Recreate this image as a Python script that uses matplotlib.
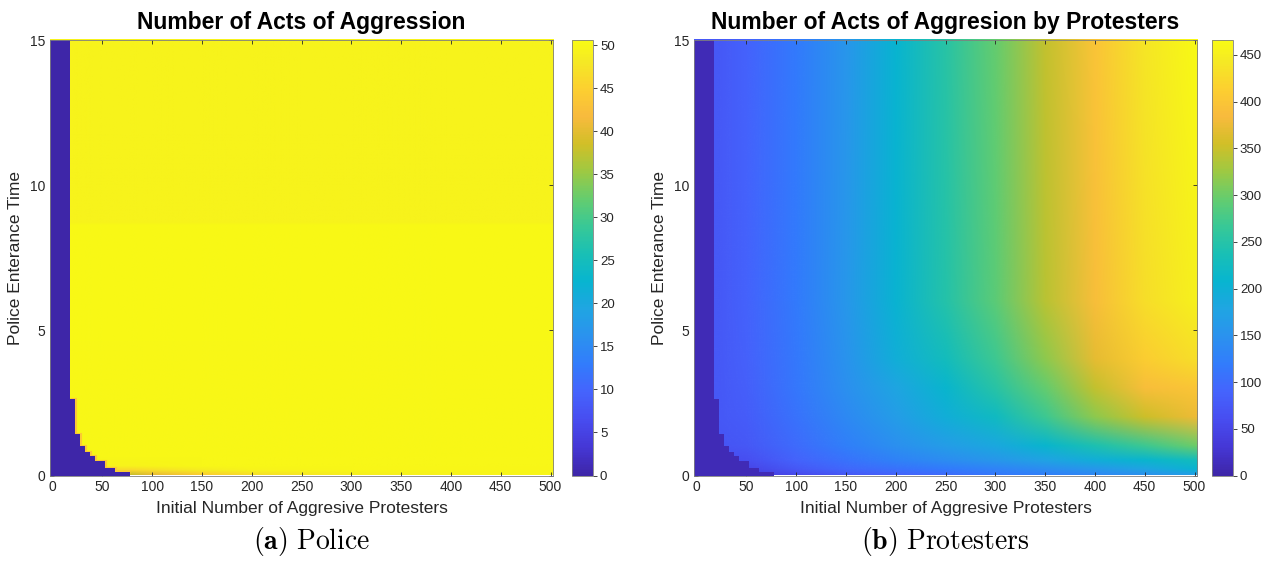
import numpy as np
import matplotlib
matplotlib.use("Agg")
import matplotlib.pyplot as plt
from matplotlib.colors import LinearSegmentedColormap, Normalize
from matplotlib.image import NonUniformImage

plt.rcParams['font.family'] = ['Liberation Sans', 'DejaVu Sans']
plt.rcParams['mathtext.fontset'] = 'cm'

# MATLAB parula (sampled)
parula_pts = [
    (0, (0.2422, 0.1504, 0.6603)), (4, (0.2706, 0.2147, 0.8364)),
    (8, (0.2813, 0.3006, 0.9414)), (12, (0.2699, 0.3892, 0.9906)),
    (16, (0.1963, 0.4847, 0.9892)), (20, (0.1687, 0.5703, 0.9359)),
    (24, (0.1248, 0.6459, 0.8883)), (28, (0.0297, 0.7082, 0.8163)),
    (32, (0.0964, 0.7500, 0.7120)), (36, (0.2161, 0.7843, 0.5923)),
    (40, (0.3909, 0.8029, 0.4354)), (44, (0.6174, 0.7876, 0.2612)),
    (48, (0.8203, 0.7498, 0.1535)), (52, (0.9728, 0.7298, 0.2394)),
    (56, (0.9892, 0.8136, 0.1885)), (60, (0.9597, 0.9135, 0.1423)),
    (63, (0.9769, 0.9839, 0.0805)),
]
parula = LinearSegmentedColormap.from_list(
    'parula', [(i / 63, c) for i, c in parula_pts], N=256)

# --- data -----------------------------------------------------------------
# staircase region (no acts): column centres and entrance time below which value ~0
stair_x = [0, 5, 10, 15, 20, 25, 30, 35, 40, 45, 50, 55, 60, 65, 70, 75]
stair_h = [15, 15, 15, 15, 2.64, 1.43, 1.01, 0.81, 0.66, 0.49, 0.49,
           0.26, 0.26, 0.11, 0.11, 0.11]

# (a) police
pol_x = [20, 77.5, 100, 150, 200, 300, 500]
pol_y = [0, 0.15, 0.3, 0.6, 8.6, 8.7, 15]
pol_z = [
    [38.0, 38.0, 40.5, 44.5, 47.0, 49.0, 50.0],
    [46.0, 46.0, 47.0, 48.6, 49.5, 50.0, 50.1],
    [49.5, 49.5, 49.8, 50.1, 50.2, 50.2, 50.2],
    [50.2, 50.2, 50.2, 50.2, 50.2, 50.2, 50.2],
    [50.3, 50.3, 50.3, 50.3, 50.3, 50.3, 50.3],
    [49.6, 49.6, 49.6, 49.6, 49.6, 49.6, 49.6],
    [49.6, 49.6, 49.6, 49.6, 49.6, 49.6, 49.6],
]
pol_dark = 0
pol_edge = 44
pol_max = 50.6

# (b) protesters
pro_x = [20, 50, 100, 150, 200, 250, 300, 350, 400, 450, 500]
pro_y = [0, 0.2, 0.5, 1, 2, 3, 4, 6, 15]
pro_z = [
    [40, 40, 55, 75, 90, 100, 115, 125, 135, 150, 170],
    [50, 50, 76, 95, 109, 119, 130, 145, 160, 180, 205],
    [60, 62, 90, 109, 128, 143, 157, 176, 195, 211, 228],
    [70, 76, 100, 124, 147, 166, 185, 211, 242, 270, 300],
    [75, 81, 109, 138, 166, 195, 223, 270, 318, 352, 375],
    [75, 84, 114, 147, 180, 210, 252, 295, 347, 390, 400],
    [75, 86, 116, 152, 195, 228, 270, 318, 370, 410, 430],
    [75, 88, 118, 157, 205, 248, 290, 342, 390, 430, 452],
    [75, 88, 118, 155, 207, 252, 296, 346, 398, 440, 463],
]
pro_dark = 10
pro_max = 466

xticks = np.arange(0, 501, 50)
yticks = [0, 5, 10, 15]

# --- figure ---------------------------------------------------------------
fig = plt.figure(figsize=(12.63, 5.65), dpi=100)

W, H = 1263, 565
panels = [
    dict(ax=(50, 40, 503, 435.5), cax=(572, 40, 21, 435.5),
         x=pol_x, y=pol_y, z=pol_z, dark=pol_dark, edge=pol_edge, vmax=pol_max,
         cticks=np.arange(0, 51, 5),
         title='Number of Acts of Aggression',
         caption=r'$\mathbf{(a)}\ \mathrm{Police}$', cap_x=312),
    dict(ax=(694, 40, 503, 435.5), cax=(1212, 40, 21, 435.5),
         x=pro_x, y=pro_y, z=pro_z, dark=pro_dark, edge=None, vmax=pro_max,
         cticks=np.arange(0, 451, 50),
         title='Number of Acts of Aggresion by Protesters',
         caption=r'$\mathbf{(b)}\ \mathrm{Protesters}$', cap_x=945),
]

edges = np.append(np.array(stair_x) - 2.5, stair_x[-1] + 2.5)
grey = '#262626'
for p in panels:
    l, t, w, h = p['ax']
    ax = fig.add_axes([l / W, 1 - (t + h) / H, w / W, h / H])
    norm = Normalize(0, p['vmax'])
    im = NonUniformImage(ax, interpolation='bilinear', cmap=parula, norm=norm,
                         extent=(-2.5, 502.5, 0, 15))
    im.set_data(np.array(p['x'], float), np.array(p['y'], float),
                np.array(p['z'], float))
    ax.add_image(im)
    if p['edge'] is not None:
        # thin orange rim just outside the stepped edge
        ax.stairs(stair_h[4:], edges[4:], baseline=None,
                  color=parula(norm(p['edge'])), lw=2.2, zorder=2)
    ax.stairs(stair_h, edges, fill=True, baseline=0,
              color=parula(norm(p['dark'])), zorder=3)
    ax.set_xlim(-2.5, 502.5)
    ax.set_ylim(0, 15)
    ax.set_xticks(xticks)
    ax.set_yticks(yticks)
    ax.tick_params(direction='in', length=3, width=0.6, top=True, right=True,
                   labelsize=10, colors=grey, labelcolor=grey)
    for s in ax.spines.values():
        s.set_linewidth(0.6)
        s.set_color('#7f7f7f')
        s.set_zorder(4)
    ax.set_title(p['title'], fontsize=16.5, fontweight='bold', pad=8)
    ax.set_xlabel('Initial Number of Aggresive Protesters', fontsize=12.5,
                  color=grey, labelpad=5)
    ax.set_ylabel('Police Enterance Time', fontsize=12.5, color=grey,
                  labelpad=5)

    cl, ct, cw, ch = p['cax']
    cax = fig.add_axes([cl / W, 1 - (ct + ch) / H, cw / W, ch / H])
    cb = fig.colorbar(im, cax=cax)
    cb.set_ticks(p['cticks'])
    cb.ax.tick_params(direction='out', length=3, width=0.6, labelsize=9.5,
                      pad=2, colors=grey, labelcolor=grey)
    cb.outline.set_linewidth(0.6)
    cb.outline.set_edgecolor('#7f7f7f')

    fig.text(p['cap_x'] / W, 1 - 541 / H, p['caption'], fontsize=20,
             ha='center', va='center')

fig.savefig('out.png', dpi=100)
